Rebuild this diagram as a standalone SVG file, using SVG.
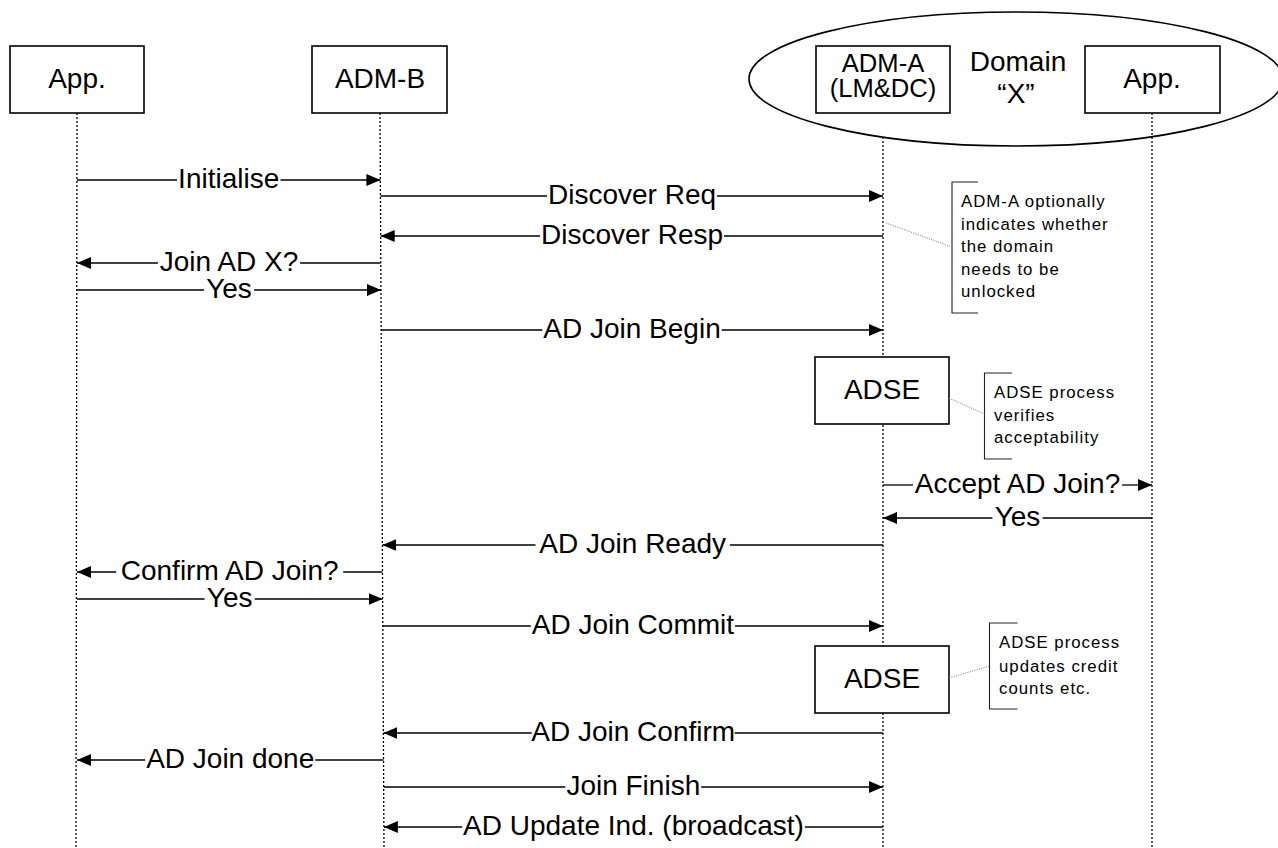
<svg xmlns="http://www.w3.org/2000/svg" width="1278" height="848" viewBox="0 0 1278 848">
<style>
text{font-family:"Liberation Sans",Arial,sans-serif;fill:#000}
.box{fill:#fff;stroke:#000;stroke-width:1.6}
.lbl{font-size:28px;text-anchor:middle}
.hdr{font-size:28px;text-anchor:middle}
.hdr2{font-size:25.6px;text-anchor:middle}
.life{fill:none;stroke:#000;stroke-width:1.3;stroke-dasharray:2 2}
.msg{fill:none;stroke:#000;stroke-width:1.3}
.note{font-size:16.8px;letter-spacing:1px}
.brk{fill:none;stroke:#222;stroke-width:1.1}
.dot{fill:none;stroke:#888;stroke-width:1;stroke-dasharray:1.2 1.2}
</style>
<defs>
<marker id="ah" viewBox="0 0 14 12" refX="14" refY="6" markerWidth="14" markerHeight="12" markerUnits="userSpaceOnUse" orient="auto"><path d="M0,0 L14,6 L0,12 z" fill="#000"/></marker>
</defs>
<rect width="1278" height="848" fill="#fff"/>

<g id="domain-x">
<ellipse cx="1016" cy="79" rx="267" ry="67" fill="#fff" stroke="#000" stroke-width="1.6"/>
<text class="hdr" x="1018" y="71">Domain</text>
<text class="hdr" x="1016" y="103">“X”</text>
</g>

<g id="lifelines">
<path class="life" d="M77,113 L76,848"/>
<path class="life" d="M380,113 L384,848"/>
<path class="life" d="M883,137 L883,848"/>
<path class="life" d="M1152,113 L1152,848"/>
</g>

<g id="app-left"><rect class="box" x="10" y="46" width="134" height="67"/><text class="hdr" x="77" y="88">App.</text></g>
<g id="adm-b"><rect class="box" x="312" y="46" width="135" height="67"/><text class="hdr" x="380" y="88">ADM-B</text></g>
<g id="adm-a"><rect class="box" x="816" y="46" width="134" height="67"/><text class="hdr2" x="883" y="72">ADM-A</text><text class="hdr2" x="883" y="97">(LM&amp;DC)</text></g>
<g id="app-right"><rect class="box" x="1085" y="46" width="135" height="67"/><text class="hdr" x="1152" y="88">App.</text></g>

<g id="adse-1"><rect class="box" x="815" y="357" width="134" height="67"/><text class="hdr" x="882" y="399">ADSE</text></g>
<g id="adse-2"><rect class="box" x="815" y="646" width="134" height="67"/><text class="hdr" x="882" y="688">ADSE</text></g>

<g id="note-1">
<path class="brk" d="M978,182 H952 V313 H978"/>
<text class="note" x="961" y="207">ADM-A optionally</text>
<text class="note" x="961" y="230">indicates whether</text>
<text class="note" x="961" y="252">the domain</text>
<text class="note" x="961" y="274.5">needs to be</text>
<text class="note" x="961" y="297">unlocked</text>
</g>
<g id="note-2">
<path class="brk" d="M1012,373 H984.5 V459 H1012"/>
<text class="note" x="994" y="398">ADSE process</text>
<text class="note" x="994" y="420.5">verifies</text>
<text class="note" x="994" y="443">acceptability</text>
</g>
<g id="note-3">
<path class="brk" d="M1017.5,623 H989.5 V709 H1017.5"/>
<text class="note" x="999" y="648">ADSE process</text>
<text class="note" x="999" y="671.5">updates credit</text>
<text class="note" x="999" y="694">counts etc.</text>
</g>

<g id="connectors">
<path class="dot" d="M886,223 L952,247"/>
<path class="dot" d="M949,398 L984.5,414"/>
<path class="dot" d="M949,678 L989.5,666"/>

<path class="msg" d="M77,180 H177"/><path class="msg" d="M280.5,180 H380.4" marker-end="url(#ah)"/>
<text class="lbl" x="228.7" y="188">Initialise</text>

<path class="msg" d="M380.5,196 H547"/><path class="msg" d="M717,196 H883" marker-end="url(#ah)"/>
<text class="lbl" x="632" y="204">Discover Req</text>

<path class="msg" d="M540,236 H380.7" marker-end="url(#ah)"/><path class="msg" d="M724,236 H883"/>
<text class="lbl" x="632" y="244">Discover Resp</text>

<path class="msg" d="M157.9,263 H77" marker-end="url(#ah)"/><path class="msg" d="M300.1,263 H380.8"/>
<text class="lbl" x="229" y="271">Join AD X?</text>

<path class="msg" d="M77,290 H203.9"/><path class="msg" d="M254.1,290 H381" marker-end="url(#ah)"/>
<text class="lbl" x="229" y="298">Yes</text>

<path class="msg" d="M381.2,330 H542.3"/><path class="msg" d="M721.7,330 H883" marker-end="url(#ah)"/>
<text class="lbl" x="632" y="338">AD Join Begin</text>

<path class="msg" d="M883,485 H913"/><path class="msg" d="M1122,485 H1152" marker-end="url(#ah)"/>
<text class="lbl" x="1017.5" y="493">Accept AD Join?</text>

<path class="msg" d="M992.4,518 H883" marker-end="url(#ah)"/><path class="msg" d="M1042.6,518 H1152"/>
<text class="lbl" x="1017.5" y="526">Yes</text>

<path class="msg" d="M535.5,545 H382.4" marker-end="url(#ah)"/><path class="msg" d="M729.9,545 H883"/>
<text class="lbl" x="632.7" y="553">AD Join Ready</text>

<path class="msg" d="M116.2,572 H77" marker-end="url(#ah)"/><path class="msg" d="M343.2,572 H382.5"/>
<text class="lbl" x="229.7" y="580">Confirm AD Join?</text>

<path class="msg" d="M77,599 H204.6"/><path class="msg" d="M254.8,599 H382.6" marker-end="url(#ah)"/>
<text class="lbl" x="229.7" y="607">Yes</text>

<path class="msg" d="M382.8,626 H530.8"/><path class="msg" d="M735,626 H883" marker-end="url(#ah)"/>
<text class="lbl" x="632.9" y="634">AD Join Commit</text>

<path class="msg" d="M531.7,733 H383.4" marker-end="url(#ah)"/><path class="msg" d="M734.7,733 H883"/>
<text class="lbl" x="633.2" y="741">AD Join Confirm</text>

<path class="msg" d="M145.2,760 H77" marker-end="url(#ah)"/><path class="msg" d="M315.3,760 H383.5"/>
<text class="lbl" x="230.2" y="768">AD Join done</text>

<path class="msg" d="M383.7,787 H565.4"/><path class="msg" d="M701.2,787 H883" marker-end="url(#ah)"/>
<text class="lbl" x="633.3" y="795">Join Finish</text>

<path class="msg" d="M462.1,827 H383.9" marker-end="url(#ah)"/><path class="msg" d="M804.9,827 H883"/>
<text class="lbl" x="633.5" y="835">AD Update Ind. (broadcast)</text>
</g>
</svg>
